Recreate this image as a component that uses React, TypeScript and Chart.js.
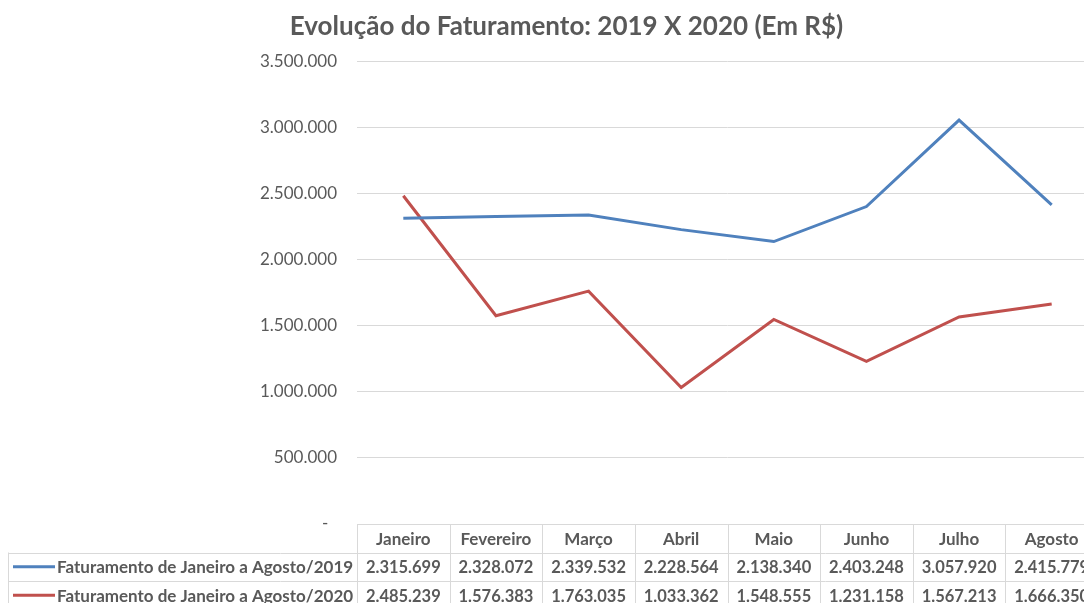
import React, { useEffect, useRef } from "react";
import { Chart, registerables } from "chart.js";

Chart.register(...registerables);

const categories = ["Janeiro", "Fevereiro", "Março", "Abril", "Maio", "Junho", "Julho", "Agosto"];
const seriesLabels = [
  "Faturamento de Janeiro a Agosto/2019",
  "Faturamento de Janeiro a Agosto/2020",
];
const values2019 = [2315699, 2328072, 2339532, 2228564, 2138340, 2403248, 3057920, 2415779];
const values2020 = [2485239, 1576383, 1763035, 1033362, 1548555, 1231158, 1567213, 1666350];
const seriesColors = ["#4F81BD", "#C0504D"];
const yMin = 0;
const yMax = 3500000;
const yStep = 500000;
const titleText = "Evolução do Faturamento: 2019 X 2020 (Em R$)";

const FONT = "Lato, 'Open Sans', sans-serif";
const TEXT_COLOR = "#595959";
const GRID_COLOR = "#d9d9d9";

const fmt = (v: number) => String(Math.round(v)).replace(/\B(?=(\d{3})+(?!\d))/g, ".");

const tablePlugin = {
  id: "dataTable",
  afterDraw(chart: any) {
    const { ctx, chartArea, scales } = chart;
    const x = scales.x;
    const n = categories.length;
    const band = (chartArea.right - chartArea.left) / n;
    const rowH = 28.5;
    const top = chartArea.bottom;
    const legendLeft = 8;
    const rows = [values2019, values2020];
    ctx.save();
    ctx.strokeStyle = GRID_COLOR;
    ctx.lineWidth = 1;
    const hline = (x1: number, x2: number, y: number) => {
      const yy = Math.round(y) + 0.5;
      ctx.beginPath();
      ctx.moveTo(x1, yy);
      ctx.lineTo(x2, yy);
      ctx.stroke();
    };
    const vline = (xx: number, y1: number, y2: number) => {
      const xr = Math.round(xx) + 0.5;
      ctx.beginPath();
      ctx.moveTo(xr, y1);
      ctx.lineTo(xr, y2);
      ctx.stroke();
    };
    hline(chartArea.left, chartArea.right, top);
    for (let r = 1; r <= 3; r++) hline(legendLeft, chartArea.right, top + r * rowH);
    for (let i = 0; i <= n; i++) {
      const xb = i < n ? x.getPixelForValue(i) - band / 2 : x.getPixelForValue(n - 1) + band / 2;
      vline(xb, top, top + 3 * rowH);
    }
    vline(legendLeft, top + rowH, top + 3 * rowH);

    ctx.fillStyle = TEXT_COLOR;
    ctx.textBaseline = "middle";
    ctx.textAlign = "center";
    ctx.font = `bold 17px ${FONT}`;
    categories.forEach((c, i) => {
      ctx.fillText(c, x.getPixelForValue(i), top + rowH / 2 + 1);
    });
    rows.forEach((vals, r) => {
      const cy = top + rowH * (r + 1) + rowH / 2 + 1;
      ctx.textAlign = "center";
      ctx.fillStyle = TEXT_COLOR;
      ctx.font = `bold 16.5px ${FONT}`;
      vals.forEach((v, i) => {
        ctx.fillText(fmt(v), x.getPixelForValue(i), cy);
      });
      ctx.strokeStyle = seriesColors[r];
      ctx.lineWidth = 3;
      ctx.beginPath();
      ctx.moveTo(13, cy - 1);
      ctx.lineTo(55, cy - 1);
      ctx.stroke();
      ctx.textAlign = "left";
      ctx.font = `bold 17px ${FONT}`;
      ctx.fillText(seriesLabels[r], 57, cy);
    });
    ctx.restore();
  },
};

export default function App() {
  const ref = useRef<HTMLCanvasElement>(null);
  useEffect(() => {
    document.documentElement.style.overflow = "hidden";
    document.body.style.overflow = "hidden";
    const canvas = ref.current;
    if (!canvas) return;
    const chart = new Chart(canvas, {
      type: "line",
      data: {
        labels: categories,
        datasets: [
          {
            label: seriesLabels[0],
            data: values2019,
            borderColor: seriesColors[0],
            backgroundColor: seriesColors[0],
            borderWidth: 3,
            pointRadius: 0,
            tension: 0,
          },
          {
            label: seriesLabels[1],
            data: values2020,
            borderColor: seriesColors[1],
            backgroundColor: seriesColors[1],
            borderWidth: 3,
            pointRadius: 0,
            tension: 0,
          },
        ],
      },
      options: {
        responsive: false,
        animation: false,
        devicePixelRatio: 1,
        layout: { padding: { left: 35, right: 35, top: 0, bottom: 96 } },
        plugins: {
          legend: { display: false },
          tooltip: { enabled: false },
          title: {
            display: true,
            text: titleText,
            color: TEXT_COLOR,
            font: { family: FONT, size: 26, weight: "bold" },
            padding: { top: 11, bottom: 19.5 },
          },
        },
        scales: {
          x: {
            type: "category",
            offset: true,
            display: false,
          },
          y: {
            min: yMin,
            max: yMax,
            afterFit: (scale: any) => {
              scale.width = 322;
            },
            border: { display: false },
            grid: { color: GRID_COLOR, drawTicks: false },
            ticks: {
              stepSize: yStep,
              padding: 20,
              color: TEXT_COLOR,
              font: { family: FONT, size: 17 },
              callback: (v: any) => (Number(v) === 0 ? "-  " : fmt(Number(v))),
            },
          },
        },
      },
      plugins: [tablePlugin],
    });
    return () => chart.destroy();
  }, []);
  return (
    <div style={{ position: "fixed", left: 0, top: 0, width: 1133, height: 620 }}>
      <canvas ref={ref} width={1133} height={620} style={{ display: "block" }} />
    </div>
  );
}
